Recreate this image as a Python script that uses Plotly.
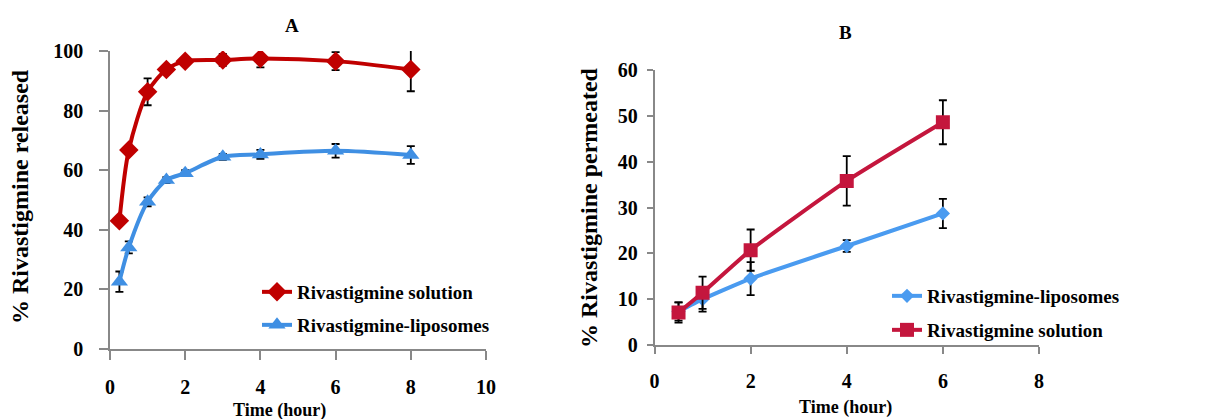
import plotly.graph_objects as go

# Panel A: release
time_a = [0.25, 0.5, 1, 1.5, 2, 3, 4, 6, 8]
sol_a = [43.0, 66.8, 86.3, 93.8, 96.6, 97.0, 97.5, 96.6, 93.8]
sol_a_err = [1.0, 1.0, 4.5, 1.5, 1.0, 2.0, 3.0, 3.0, 7.3]
lip_a = [22.6, 34.1, 49.4, 56.7, 59.0, 64.5, 65.3, 66.5, 65.1]
lip_a_err = [3.4, 2.0, 1.5, 1.0, 1.0, 1.0, 1.5, 2.3, 3.0]

# Panel B: permeation
time_b = [0.5, 1, 2, 4, 6]
lip_b = [7.3, 10.0, 14.5, 21.6, 28.7]
lip_b_err = [2.0, 2.7, 3.6, 1.3, 3.2]
sol_b = [7.1, 11.4, 20.7, 35.8, 48.6]
sol_b_err = [2.2, 3.5, 4.5, 5.4, 4.8]

FONT = "Liberation Serif"
RED_A = "#C00000"
BLUE_A = "#3F8FE3"
RED_B = "#C4163D"
BLUE_B = "#4A9BF0"

def err(v):
    return dict(type="data", array=v, visible=True, color="black", thickness=1.8, width=4)

fig = go.Figure()
fig.add_trace(go.Scatter(x=time_a, y=sol_a, error_y=err(sol_a_err), mode="lines+markers",
                         name="Rivastigmine solution", line=dict(color=RED_A, width=4, shape="spline", smoothing=0.8),
                         marker=dict(symbol="diamond", size=15, color=RED_A), xaxis="x", yaxis="y", legend="legend"))
fig.add_trace(go.Scatter(x=time_a, y=lip_a, error_y=err(lip_a_err), mode="lines+markers",
                         name="Rivastigmine-liposomes", line=dict(color=BLUE_A, width=4, shape="spline", smoothing=0.8),
                         marker=dict(symbol="triangle-up", size=15, color=BLUE_A), xaxis="x", yaxis="y", legend="legend2"))
fig.add_trace(go.Scatter(x=time_b, y=lip_b, error_y=err(lip_b_err), mode="lines+markers",
                         name="Rivastigmine-liposomes", line=dict(color=BLUE_B, width=4, shape="spline", smoothing=0.5),
                         marker=dict(symbol="diamond", size=11, color=BLUE_B), xaxis="x2", yaxis="y2", legend="legend3"))
fig.add_trace(go.Scatter(x=time_b, y=sol_b, error_y=err(sol_b_err), mode="lines+markers",
                         name="Rivastigmine solution", line=dict(color=RED_B, width=4, shape="spline", smoothing=0.5),
                         marker=dict(symbol="square", size=14, color=RED_B), xaxis="x2", yaxis="y2", legend="legend4"))

tickfont = dict(family=FONT, size=20, color="black", weight="bold")
axline = dict(showline=True, linecolor="#888888", linewidth=1.5, ticks="outside", tickcolor="#888888",
              tickwidth=1.5, showgrid=False, zeroline=False, tickfont=tickfont, automargin=False)

legfont = dict(family=FONT, size=19, color="black", weight="bold")
def leg(x, y):
    return dict(x=x/1226, y=1-y/419, xanchor="left", yanchor="top", bgcolor="rgba(0,0,0,0)",
                font=legfont, tracegroupgap=0)

fig.update_layout(
    width=1226, height=419, margin=dict(l=0, r=0, t=0, b=0, autoexpand=False),
    paper_bgcolor="white", plot_bgcolor="white",
    xaxis=dict(domain=[110/1226, 486/1226], range=[0, 10], dtick=2, anchor="y", ticklen=9,
               ticklabelstandoff=10, **axline),
    yaxis=dict(domain=[1-349/419, 1-51/419], range=[0, 100], dtick=20, anchor="x", ticklen=9,
               ticklabelstandoff=12, **axline),
    xaxis2=dict(domain=[654.5/1226, 1039/1226], range=[0, 8], dtick=2, anchor="y2", ticklen=7,
                ticklabelstandoff=10, **axline),
    yaxis2=dict(domain=[1-345/419, 1-70/419], range=[0, 60], dtick=10, anchor="x2", ticklen=6,
                ticklabelstandoff=5, **axline),
    legend=leg(257, 273),
    legend2=leg(257, 306),
    legend3=leg(887, 277),
    legend4=leg(887, 311),
    showlegend=True,
)

ann_font = dict(family=FONT, color="black", weight="bold")
anns = [
    dict(text="A", x=292, y=25, size=19),
    dict(text="B", x=845, y=33, size=19),
    dict(text="Time (hour)", x=279, y=410, size=18),
    dict(text="Time (hour)", x=845, y=407, size=18),
]
for a in anns:
    fig.add_annotation(text=a["text"], xref="paper", yref="paper", x=a["x"]/1226, y=1-a["y"]/419,
                       xanchor="center", yanchor="middle", showarrow=False,
                       font=dict(size=a["size"], **ann_font))
fig.add_annotation(text="% Rivastigmine released", xref="paper", yref="paper", x=20/1226, y=1-197/419,
                   xanchor="center", yanchor="middle", showarrow=False, textangle=-90,
                   font=dict(size=24, **ann_font))
fig.add_annotation(text="% Rivastigmine permeated", xref="paper", yref="paper", x=589/1226, y=1-208/419,
                   xanchor="center", yanchor="middle", showarrow=False, textangle=-90,
                   font=dict(size=24, **ann_font))

fig.write_html("out.html", config={"displayModeBar": False},
               post_script="document.body.style.margin='0px';document.body.style.overflow='hidden';")
